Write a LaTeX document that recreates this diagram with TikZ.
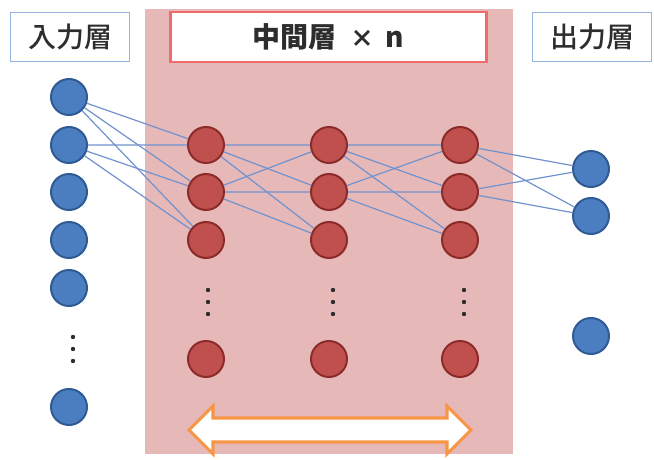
\documentclass[tikz,border=0pt]{standalone}
\usepackage{fontspec}
\newfontfamily\jpfont{Noto Sans CJK JP}
\newfontfamily\jpmedium{Noto Sans CJK JP Medium}
\tikzset{every picture/.style={line width=0.75pt}}
\tikzset{
  inunit/.style={circle, draw={rgb, 255:red, 47; green, 90; blue, 148 }, fill={rgb, 255:red, 74; green, 126; blue, 193 }, line width=1.5pt, minimum size=27pt, inner sep=0pt},
  midunit/.style={circle, draw={rgb, 255:red, 140; green, 44; blue, 42 }, fill={rgb, 255:red, 192; green, 80; blue, 77 }, line width=1.5pt, minimum size=27pt, inner sep=0pt},
  link/.style={draw={rgb, 255:red, 112; green, 146; blue, 206 }, line width=0.9pt},
  layerbox/.style={fill=white, minimum width=89pt, minimum height=37pt, inner sep=0pt, text={rgb, 255:red, 45; green, 45; blue, 45 }, font=\jpmedium\fontsize{21pt}{24pt}\selectfont},
  vdot/.style={fill={rgb, 255:red, 45; green, 45; blue, 45 }}
}

\begin{document}
\begin{tikzpicture}[x=0.75pt,y=0.75pt,yscale=-1,xscale=1]
\useasboundingbox (0,0) rectangle (654,460);

%Shape: Rectangle [id:mid-area]
\fill [color={rgb, 255:red, 230; green, 184; blue, 184 }] (145,9) rectangle (513,454);

% Text Node
\node (inlabel) [layerbox, draw={rgb, 255:red, 150; green, 180; blue, 222 }, line width=1.2pt] at (70,37) {入力層};
% Text Node
\node (midlabel) [layerbox, draw={rgb, 255:red, 238; green, 108; blue, 108 }, line width=1.6pt, minimum width=237pt, font=\jpfont\bfseries\fontsize{21pt}{24pt}\selectfont] at (328.5,37) {中間層\hspace{0.5em}{\fontsize{18pt}{20pt}\selectfont ×}\hspace{0.4em}n};
% Text Node
\node (outlabel) [layerbox, draw={rgb, 255:red, 150; green, 180; blue, 222 }, line width=1.2pt] at (592,37) {出力層};

%Flowchart: Connector (input layer)
\node (in1) [inunit] at (69,97) {};
\node (in2) [inunit] at (69,145) {};
\node (in3) [inunit] at (69,192) {};
\node (in4) [inunit] at (69,240) {};
\node (in5) [inunit] at (69,288) {};
\node (in6) [inunit] at (69,407) {};

%Flowchart: Connector (middle layers)
\node (ma1) [midunit] at (206,145) {};
\node (ma2) [midunit] at (206,192) {};
\node (ma3) [midunit] at (206,240) {};
\node (ma4) [midunit] at (206,359) {};
\node (mb1) [midunit] at (329,145) {};
\node (mb2) [midunit] at (329,192) {};
\node (mb3) [midunit] at (329,240) {};
\node (mb4) [midunit] at (329,359) {};
\node (mc1) [midunit] at (460,145) {};
\node (mc2) [midunit] at (460,192) {};
\node (mc3) [midunit] at (460,240) {};
\node (mc4) [midunit] at (460,359) {};

%Flowchart: Connector (output layer)
\node (out1) [inunit] at (591,169) {};
\node (out2) [inunit] at (591,216) {};
\node (out3) [inunit] at (591,336) {};

%Straight Lines
\path [link] (in1) -- (ma1) (in1) -- (ma2) (in1) -- (ma3) ;
\path [link] (in2) -- (ma1) (in2) -- (ma2) (in2) -- (ma3) ;
\path [link] (ma1) -- (mb1) (ma1) -- (mb2) (ma1) -- (mb3) ;
\path [link] (ma2) -- (mb1) (ma2) -- (mb2) (ma2) -- (mb3) ;
\path [link] (mb1) -- (mc1) (mb1) -- (mc2) (mb1) -- (mc3) ;
\path [link] (mb2) -- (mc1) (mb2) -- (mc2) (mb2) -- (mc3) ;
\path [link] (mc1) -- (out1) (mc1) -- (out2) ;
\path [link] (mc2) -- (out1) (mc2) -- (out2) ;

%Dots
\fill [vdot] (73,337) circle (2.2) (73,349) circle (2.2) (73,361) circle (2.2) ;
\fill [vdot] (208,290) circle (2.2) (208,302) circle (2.2) (208,314) circle (2.2) ;
\fill [vdot] (333,290) circle (2.2) (333,302) circle (2.2) (333,314) circle (2.2) ;
\fill [vdot] (464,290) circle (2.2) (464,302) circle (2.2) (464,314) circle (2.2) ;

%Shape: Left-Right Arrow [id:depth-arrow]
\draw [color={rgb, 255:red, 247; green, 150; blue, 70 }, fill=white, line width=2.3pt, line join=miter] (189,430) -- (213,406) -- (213,418) -- (447,418) -- (447,406) -- (471,430) -- (447,454) -- (447,442) -- (213,442) -- (213,454) -- cycle ;

\end{tikzpicture}
\end{document}
